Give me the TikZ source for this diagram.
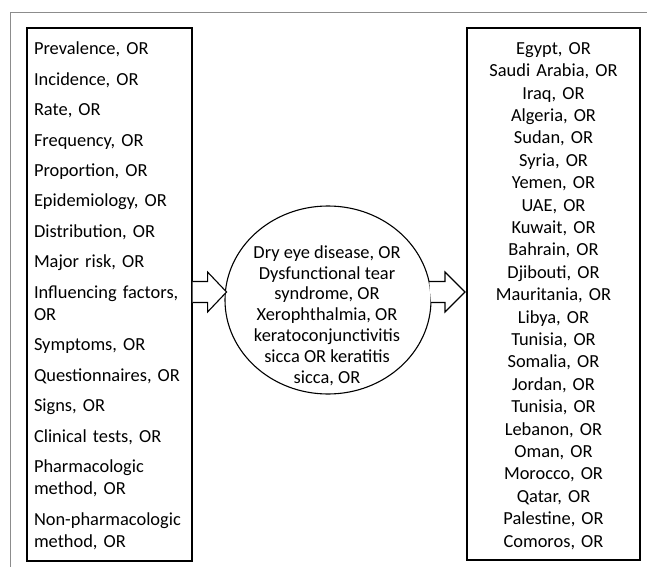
\documentclass[tikz,border=0pt]{standalone}
\usepackage{fontspec}
\setmainfont{Carlito}
\usetikzlibrary{shapes.geometric}
\begin{document}
\begin{tikzpicture}[x=1pt,y=-1pt,
  frameline/.style={draw=black!45, line width=0.9pt},
  boxline/.style={draw, rectangle, line width=1.1pt, inner sep=0pt},
  listtext/.style={inner xsep=0pt, inner ysep=0pt, font=\fontsize{18.4}{22.4}\selectfont},
  lefttext/.style={listtext, text width=151pt, align=left},
  righttext/.style={listtext, text width=159pt, align=center},
  ellbox/.style={draw, ellipse, line width=1.1pt, minimum width=206pt, minimum height=188pt, inner sep=0pt},
  elltext/.style={align=center, inner sep=0pt, font=\fontsize{18.4}{20.8}\selectfont},
  blockarrow/.style={draw, line width=1.1pt, line join=miter, fill=white}
]
\useasboundingbox (0,0) rectangle (647,567);
\draw[frameline] (647,12) -- (10,12) -- (10,567);

\node[boxline, minimum width=165pt, minimum height=533pt] (L) at (109.5,294.5) {};
\node[lefttext] (Lt) at (109.5,296) {Prevalence, OR\\[8pt]
Incidence, OR\\[8pt]
Rate, OR\\[8pt]
Frequency, OR\\[8pt]
Proportion, OR\\[8pt]
Epidemiology, OR\\[8pt]
Distribution, OR\\[8pt]
Major risk, OR\\[8pt]
Influencing factors,\\
OR\\[8pt]
Symptoms, OR\\[8pt]
Questionnaires, OR\\[8pt]
Signs, OR\\[8pt]
Clinical tests, OR\\[8pt]
Pharmacologic\\
method, OR\\[8pt]
Non-pharmacologic\\
method, OR};

\node[boxline, minimum width=173pt, minimum height=532pt] (R) at (553.5,294) {};
\node[righttext] (Rt) at (553.5,296) {Egypt, OR\\
Saudi Arabia, OR\\
Iraq, OR\\
Algeria, OR\\
Sudan, OR\\
Syria, OR\\
Yemen, OR\\
UAE, OR\\
Kuwait, OR\\
Bahrain, OR\\
Djibouti, OR\\
Mauritania, OR\\
Libya, OR\\
Tunisia, OR\\
Somalia, OR\\
Jordan, OR\\
Tunisia, OR\\
Lebanon, OR\\
Oman, OR\\
Morocco, OR\\
Qatar, OR\\
Palestine, OR\\
Comoros, OR};

\node[ellbox] (E) at (328,300) {};
\node[elltext] (T) at (327,315.5) {Dry eye disease, OR\\
Dysfunctional tear\\
syndrome, OR\\
Xerophthalmia, OR\\
keratoconjunctivitis\\
sicca OR keratitis\\
sicca, OR};

\coordinate (a1) at (L.east |- 0,292);
\draw[blockarrow] (a1) ++(0,-10.5) -- ++(15,0) -- ++(0,-9.5) -- ++(19,20) -- ++(-19,20) -- ++(0,-9.5) -- ++(-15,0);

\coordinate (a2) at (445,292);
\draw[blockarrow] (a2) ++(-15.8,-10.5) -- ++(15.8,0) -- ++(0,-9.5) -- ++(20,20) -- ++(-20,20) -- ++(0,-9.5) -- ++(-14,0);
\end{tikzpicture}
\end{document}
